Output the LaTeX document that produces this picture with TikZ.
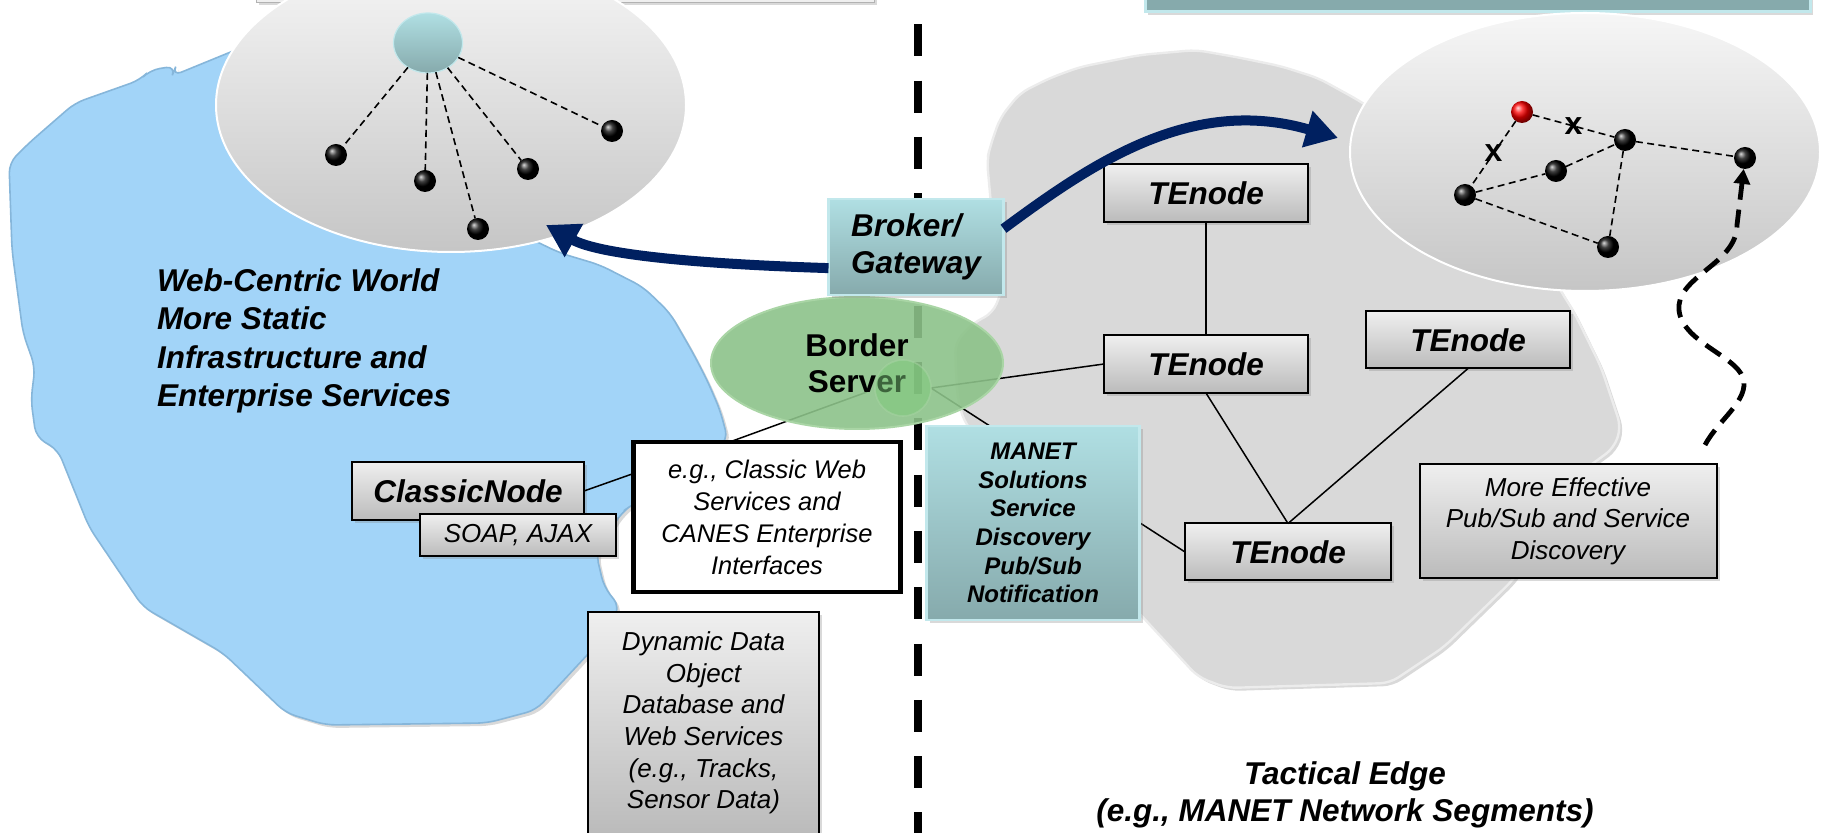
\documentclass[tikz,border=0pt]{standalone}
\usepackage{fontspec}
\setmainfont{Liberation Sans}
\usetikzlibrary{shadows,arrows.meta,shapes.geometric,calc}
\definecolor{blob}{HTML}{A2D4F8}
\definecolor{blobedge}{HTML}{86B6DA}
\definecolor{grayblob}{HTML}{D9D9D9}
\definecolor{tealtop}{HTML}{B0DFE3}
\definecolor{tealbot}{HTML}{86AAAC}
\definecolor{tealedge}{HTML}{C2E8EC}
\definecolor{navy}{HTML}{002060}
\definecolor{greenfill}{HTML}{8CC289}
\definecolor{greenedge}{HTML}{A9D5A5}
\definecolor{boxtop}{HTML}{EFEFEF}
\definecolor{boxbot}{HTML}{BBBBBB}
\begin{document}
\begin{tikzpicture}[x=0.5pt,y=-0.5pt,
  every node/.style={inner sep=0pt, outer sep=0pt},
  shad/.style={drop shadow={opacity=0.3,shadow xshift=1.5pt,shadow yshift=-1.5pt}},
  graybox/.style={rectangle, draw=black, line width=1pt, top color=boxtop, bottom color=boxbot, shad},
  tealbox/.style={rectangle, draw=tealedge, line width=1.2pt, top color=tealtop, bottom color=tealbot, shad},
  bigbi/.style={font=\fontsize{15.75}{18.5}\selectfont\bfseries\itshape},
  smallbi/.style={font=\fontsize{12}{14.35}\selectfont\bfseries\itshape},
  itf/.style={font=\fontsize{13}{15.8}\selectfont\itshape},
  conn/.style={draw=black, line width=0.75pt},
  dashline/.style={draw=black, line width=0.8pt, dash pattern=on 3.5pt off 2.2pt},
  dot/.style={circle, minimum size=11pt, ball color=black},
  reddot/.style={circle, minimum size=11pt, ball color=red},
  navyarrow/.style={draw=navy, line width=5pt, -{Triangle[length=16pt,width=18pt]}},
  wavy/.style={draw=black, line width=2.4pt, dash pattern=on 9pt off 5pt, -{Triangle[length=7.5pt,width=8pt]}},
  xlab/.style={font=\fontsize{16}{16}\selectfont\bfseries},
  circ/.style={ellipse, top color=gray!7, bottom color=gray!45, draw=white, line width=1pt},
]
\useasboundingbox (0,0) rectangle (1822,833);
\clip (0,0) rectangle (1822,833);

% blobs
\path[fill=grayblob, draw=white!85!gray, line width=1.2pt, rounded corners=5pt, shad]
  (990,147) -- (1000,118) -- (1020,93) -- (1050,78) -- (1080,67) -- (1140,55) -- (1196,50)
  -- (1236,57) -- (1280,66) -- (1318,78) -- (1358,100) -- (1450,160) -- (1540,255)
  -- (1562,293) -- (1574,312) -- (1601,367) -- (1621,427) -- (1614,448) -- (1570,480)
  -- (1540,540) -- (1513,580) -- (1444,647) -- (1390,683) -- (1227,688) -- (1198,677)
  -- (1139,613) -- (1060,540) -- (963,420) -- (957,393) -- (955,343) -- (973,323)
  -- (993,313) -- (1003,287) -- (993,227) -- (987,160) -- cycle;
\path[fill=blob, draw=blobedge, line width=0.8pt, rounded corners=5pt, shad]
  (9,163) -- (29,143) -- (75,103) -- (140,80) -- (150,70) -- (176,66) -- (172,76)
  -- (260,40) -- (450,200) -- (560,253) -- (600,265) -- (643,287) -- (670,313)
  -- (693,353) -- (707,380) -- (720,410) -- (728,440) -- (690,470) -- (632,505) -- (622,512)
  -- (596,553) -- (604,587) -- (620,607) -- (605,635) -- (589,653) -- (536,710)
  -- (487,723) -- (326,725) -- (286,713) -- (223,653) -- (143,607) -- (89,527)
  -- (58,450) -- (36,437) -- (31,400) -- (35,367) -- (23,333) -- (12,250) -- cycle;

% partial boxes at the top edge
\path[fill=boxtop, draw=gray!60, shad] (256,-40) rectangle (874,2);
\path[fill=tealbot, draw=tealedge, line width=1.5pt, shad] (1145,-40) rectangle (1810,12);

% circles
\node[circ, minimum width=235pt, minimum height=147pt] (lc) at (451,105) {};
\node[circ, minimum width=235pt, minimum height=139pt] (rcir) at (1585,152) {};

% divider
\draw[line width=3.8pt, dash pattern=on 16pt off 12.15pt] (918,-32) -- (918,840);

% left network
\node[ellipse, minimum width=34.5pt, minimum height=30pt, top color=tealtop, bottom color=tealbot, draw=tealedge, line width=0.6pt] (hub) at (428,43) {};
\node[dot] (d1) at (336,155) {};
\node[dot] (d2) at (425,181) {};
\node[dot] (d3) at (478,229) {};
\node[dot] (d4) at (528,169) {};
\node[dot] (d5) at (612,131) {};
\foreach \d in {d1,d2,d3,d4,d5} \draw[dashline] (hub) -- (\d);

% boxes (lower layer)
\node[graybox, bigbi, minimum width=102pt, minimum height=29pt] (tn1) at (1206,193) {TEnode};
\node[graybox, bigbi, minimum width=102pt, minimum height=29pt] (tn2) at (1206,364) {TEnode};
\node[graybox, bigbi, minimum width=102pt, minimum height=28.5pt] (tn3) at (1468,340) {TEnode};
\node[graybox, bigbi, minimum width=103pt, minimum height=28.5pt] (tn4) at (1288,552) {TEnode};
\node[graybox, itf, align=center, minimum width=148.5pt, minimum height=57pt] (more) at (1568,521) {More Effective\\Pub/Sub and Service\\Discovery};
\node[rectangle, draw=black, line width=2.25pt, fill=white, font=\fontsize{12.75}{16}\selectfont\itshape, align=center, minimum width=133.5pt, minimum height=75pt] (canes) at (767,517) {e.g., Classic Web\\Services and\\CANES Enterprise\\Interfaces};
\node[graybox, itf, align=center, minimum width=115.5pt, minimum height=111pt] (dyn) at (703.5,723) {Dynamic Data\\Object\\Database and\\Web Services\\(e.g., Tracks,\\Sensor Data)};
\node[graybox, bigbi, minimum width=116pt, minimum height=29pt] (classic) at (468,491) {ClassicNode};
\node[graybox, itf, minimum width=98pt, minimum height=21pt] (soap) at (518,535) {SOAP, AJAX};

% inner circle position
\path node[circle, minimum size=28pt] (ic) at (903,388) {};
\coordinate (icL) at ($(ic.center)+(-36,4)$);
\coordinate (canT) at ($(canes.north west)!0.36!(canes.north east)$);
\coordinate (canW) at ($(canes.north west)!0.21!(canes.south west)$);

% connectors
\draw[conn] (tn1.south) -- (tn2.north);
\draw[conn] (tn2.south) -- (tn4.north);
\draw[conn] (tn3.south) -- (tn4.north);
\draw[conn] (ic.east) -- (tn2.west);
\draw[conn] (ic.east) -- (tn4.west);
\draw[conn] (icL) -- (canT);
\draw[conn] (classic.east) -- (canW);

% MANET box over connector
\node[tealbox, smallbi, align=center, minimum width=106.5pt, minimum height=97pt] (manet) at (1033,523) {MANET\\Solutions\\Service\\Discovery\\Pub/Sub\\Notification};

% border server
\node[ellipse, minimum width=146pt, minimum height=66pt, fill=greenfill, fill opacity=0.9, draw=greenedge, line width=1pt, text opacity=1, font=\fontsize{15.75}{18}\selectfont\bfseries, align=center] (bs) at (857,363) {Border\\Server};
\path[fill=green!12!greenfill, fill opacity=0.5, draw=greenedge, draw opacity=0.5, line width=0.8pt] (ic.center) circle[radius=14pt];

% broker
\node[tealbox, bigbi, align=left, minimum width=87.5pt, minimum height=48pt] (brk) at (916,247) {Broker/\\Gateway};

% texts
\node[font=\fontsize{15.75}{19.25}\selectfont\bfseries\itshape, align=left, anchor=west] (wc) at (157,341) {Web-Centric World\\More Static\\Infrastructure and\\Enterprise Services};
\node[font=\fontsize{15.75}{18.5}\selectfont\bfseries\itshape, align=center] (tac) at (1345,795) {Tactical Edge\\(e.g., MANET Network Segments)};

% navy arrows
\coordinate (bkL) at ($(brk.north west)!0.72!(brk.south west)$);
\coordinate (bkR) at ($(brk.north east)!0.31!(brk.south east)$);
\coordinate (lcTip) at (546,225);
\coordinate (rcTip) at (1338,138);
\draw[navyarrow] (bkL) .. controls (700,264) and (600,255) .. (lcTip);
\draw[navyarrow] (bkR) .. controls (1090,165) and (1190,95) .. (rcTip);

% right network
\node[reddot] (r0) at (1522,112) {};
\node[dot] (ra) at (1625,140) {};
\node[dot] (rb) at (1556,171) {};
\node[dot] (rcc) at (1465,195) {};
\node[dot] (rd) at (1608,247) {};
\node[dot] (re) at (1745,158) {};
\draw[dashline] (r0) -- node[xlab] (x1) {x} (ra);
\draw[dashline] (r0) -- node[xlab] (x2) {x} (rcc);
\draw[dashline] (rcc) -- (rb);
\draw[dashline] (rb) -- (ra);
\draw[dashline] (rcc) -- (rd);
\draw[dashline] (ra) -- (rd);
\draw[dashline] (ra) -- (re);

% wavy arrow
\coordinate (wv) at (1705,445);
\draw[wavy] (wv) .. controls (1718,420) and (1750,400) .. (1743,378)
  .. controls (1736,355) and (1676,340) .. (1679,305)
  .. controls (1682,275) and (1737,262) .. (1737,225) -- (re);
\end{tikzpicture}
\end{document}
